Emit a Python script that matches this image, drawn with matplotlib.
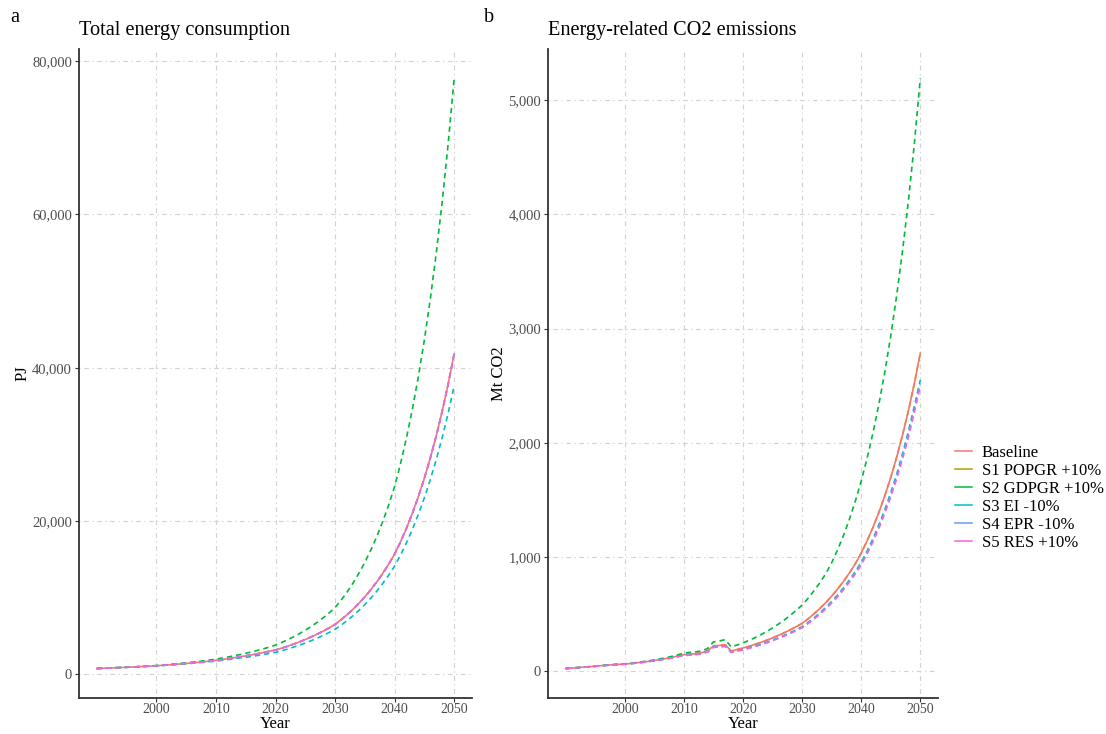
import numpy as np
import matplotlib
matplotlib.use("Agg")
import matplotlib.pyplot as plt
from matplotlib.lines import Line2D
from matplotlib.ticker import FuncFormatter

plt.rcParams['font.family'] = ['Liberation Serif', 'DejaVu Serif']

# ── Data ─────────────────────────────────────────────────────────────
years = list(range(1990, 2051))

scenarios = ["Baseline", "S1 POPGR +10%", "S2 GDPGR +10%",
             "S3 EI -10%", "S4 EPR -10%", "S5 RES +10%"]
colors = ["#F8766D", "#B79F00", "#00BA38", "#00BFC4", "#619CFF", "#F564E3"]

# Total energy consumption (PJ)
base_energy = [740, 770, 800, 832, 865, 900, 937, 975, 1015, 1057,
               1100, 1155, 1213, 1273, 1337, 1404, 1474, 1548, 1625, 1706,
               1800, 1904, 2015, 2132, 2255, 2386, 2524, 2671, 2826, 2990,
               3150, 3386, 3640, 3913, 4207, 4522, 4861, 5226, 5618, 6039,
               6500, 7098, 7751, 8464, 9243, 10093, 11022, 12036, 13143, 14352,
               15670, 17285, 19065, 21030, 23195, 25585, 28220, 31130, 34335, 37870, 41770]
s1_energy = list(base_energy)
s2_energy = [740, 771, 803, 837, 872, 909, 947, 987, 1028, 1071,
             1120, 1184, 1252, 1324, 1401, 1481, 1566, 1656, 1752, 1852,
             1960, 2093, 2236, 2388, 2550, 2723, 2909, 3106, 3318, 3543,
             3800, 4127, 4482, 4867, 5286, 5740, 6234, 6770, 7352, 7985,
             8700, 9648, 10700, 11867, 13160, 14594, 16185, 17949, 19905, 22075,
             24481, 27480, 30846, 34625, 38867, 43628, 48973, 54972, 61706, 69265, 77750]
s3_energy = [740, 769, 798, 829, 861, 895, 931, 967, 1006, 1046,
             1078, 1129, 1183, 1238, 1297, 1358, 1421, 1488, 1557, 1629,
             1710, 1804, 1903, 2006, 2114, 2196, 2313, 2440, 2571, 2710,
             2835, 3047, 3276, 3522, 3786, 4070, 4375, 4703, 5056, 5435,
             5850, 6388, 6976, 7618, 8319, 9084, 9920, 10832, 11829, 12917,
             14103, 15557, 17159, 18927, 20876, 23027, 25398, 28017, 30902, 34083, 37593]
s4_energy = list(base_energy)
s5_energy = list(base_energy)

# Energy-related CO2 emissions (Mt CO2)
base_co2 = [25, 29, 33, 37, 41, 45, 50, 54, 58, 61,
            64, 69, 75, 81, 88, 95, 104, 113, 123, 135,
            146, 150, 155, 163, 180, 222, 227, 233, 178, 191,
            204, 219, 236, 253, 272, 293, 315, 338, 364, 391,
            420, 459, 503, 550, 601, 658, 720, 787, 861, 942,
            1035, 1143, 1261, 1393, 1537, 1697, 1874, 2069, 2284, 2521, 2785]
s1_co2 = list(base_co2)
s2_co2 = [25, 29, 33, 37, 41, 46, 51, 55, 59, 63,
          66, 71, 78, 85, 92, 100, 110, 120, 132, 145,
          160, 166, 171, 179, 200, 258, 266, 278, 214, 231,
          249, 271, 294, 320, 349, 380, 414, 450, 490, 534,
          580, 639, 704, 775, 854, 950, 1063, 1189, 1330, 1488,
          1665, 1865, 2089, 2340, 2620, 2935, 3288, 3682, 4124, 4620, 5190]
s3_co2 = [25, 28, 32, 36, 40, 44, 49, 53, 57, 60,
          63, 68, 74, 80, 86, 93, 102, 111, 120, 131,
          141, 145, 149, 157, 172, 212, 217, 222, 169, 181,
          192, 206, 221, 237, 255, 274, 294, 316, 340, 365,
          391, 428, 468, 512, 560, 612, 669, 731, 800, 874,
          955, 1054, 1163, 1284, 1417, 1564, 1726, 1906, 2104, 2323, 2550]
s4_co2 = [25, 28, 32, 36, 40, 44, 49, 53, 57, 60,
          63, 68, 73, 79, 86, 93, 101, 110, 119, 130,
          140, 144, 148, 156, 171, 211, 216, 221, 168, 179,
          190, 204, 219, 235, 252, 271, 291, 312, 336, 360,
          386, 422, 462, 505, 552, 604, 660, 721, 789, 862,
          942, 1040, 1147, 1267, 1398, 1543, 1703, 1880, 2076, 2292, 2520]
s5_co2 = [25, 28, 32, 36, 40, 44, 48, 52, 56, 59,
          62, 67, 72, 78, 85, 92, 100, 108, 117, 128,
          138, 142, 146, 154, 169, 209, 214, 219, 166, 177,
          188, 202, 217, 232, 249, 268, 288, 309, 332, 356,
          382, 417, 457, 499, 546, 597, 653, 713, 780, 852,
          931, 1028, 1134, 1253, 1383, 1526, 1684, 1859, 2052, 2266, 2495]

energy = [base_energy, s1_energy, s2_energy, s3_energy, s4_energy, s5_energy]
co2 = [base_co2, s1_co2, s2_co2, s3_co2, s4_co2, s5_co2]

x_ticks = [2000, 2010, 2020, 2030, 2040, 2050]

# ── Figure ───────────────────────────────────────────────────────────
fig = plt.figure(figsize=(11.06, 7.34), dpi=100)
fig.patch.set_facecolor("white")

ax_a = fig.add_axes([79 / 1106, 1 - 698 / 734, (472 - 79) / 1106, (698 - 49) / 734])
ax_b = fig.add_axes([548 / 1106, 1 - 698 / 734, (938 - 548) / 1106, (698 - 49) / 734])

comma = FuncFormatter(lambda v, p: f"{int(v):,}")


def style_axes(ax, series, yticks, ylabel, title):
    # S1 sits under the baseline (identical values), the rest on top
    z = [3, 2, 4, 4, 4, 4]
    for i, (vals, c) in enumerate(zip(series, colors)):
        if i == 0:
            ax.plot(years, vals, color=c, lw=1.2, zorder=z[i])
        else:
            ax.plot(years, vals, color=c, lw=1.2, dashes=(3.2, 2.4), zorder=z[i])
    ax.set_xticks(x_ticks)
    ax.set_yticks(yticks)
    ax.yaxis.set_major_formatter(comma)
    ax.margins(x=0.05, y=0.05)
    ax.grid(True, color="#D3D3D3", lw=0.85, dashes=(1, 3, 4, 3))
    ax.set_axisbelow(True)
    for s in ["top", "right"]:
        ax.spines[s].set_visible(False)
    for s in ["left", "bottom"]:
        ax.spines[s].set_linewidth(1.3)
        ax.spines[s].set_color("#333333")
    ax.tick_params(length=3, width=0.8, color="#333333", labelsize=10.5,
                   labelcolor="#4D4D4D", pad=2)
    ax.tick_params(axis="x", labelsize=10, pad=0.5)
    ax.set_xlabel("Year", fontsize=12)
    ax.xaxis.set_label_coords(0.5, -0.0276)
    ax.set_ylabel(ylabel, fontsize=12, labelpad=1)
    ax.set_title(title, fontsize=14.6, loc="left", pad=10)


style_axes(ax_a, energy, [0, 20000, 40000, 60000, 80000], "PJ",
           "Total energy consumption")
style_axes(ax_b, co2, [0, 1000, 2000, 3000, 4000, 5000], "Mt CO2",
           "Energy-related CO2 emissions")

fig.text(10 / 1106, 1 - 18 / 734, "a", fontsize=14.6, va="center", ha="left")
fig.text(484 / 1106, 1 - 18 / 734, "b", fontsize=14.6, va="center", ha="left")

handles = [Line2D([0], [0], color=c, lw=1.1) for c in colors]
fig.legend(handles, scenarios, loc="center left",
           bbox_to_anchor=(955 / 1106, 1 - 498 / 734), frameon=False,
           fontsize=12, handlelength=1.0, handletextpad=0.6,
           labelspacing=0.12, borderpad=0, borderaxespad=0)

fig.savefig("out.png", dpi=100, facecolor="white")
